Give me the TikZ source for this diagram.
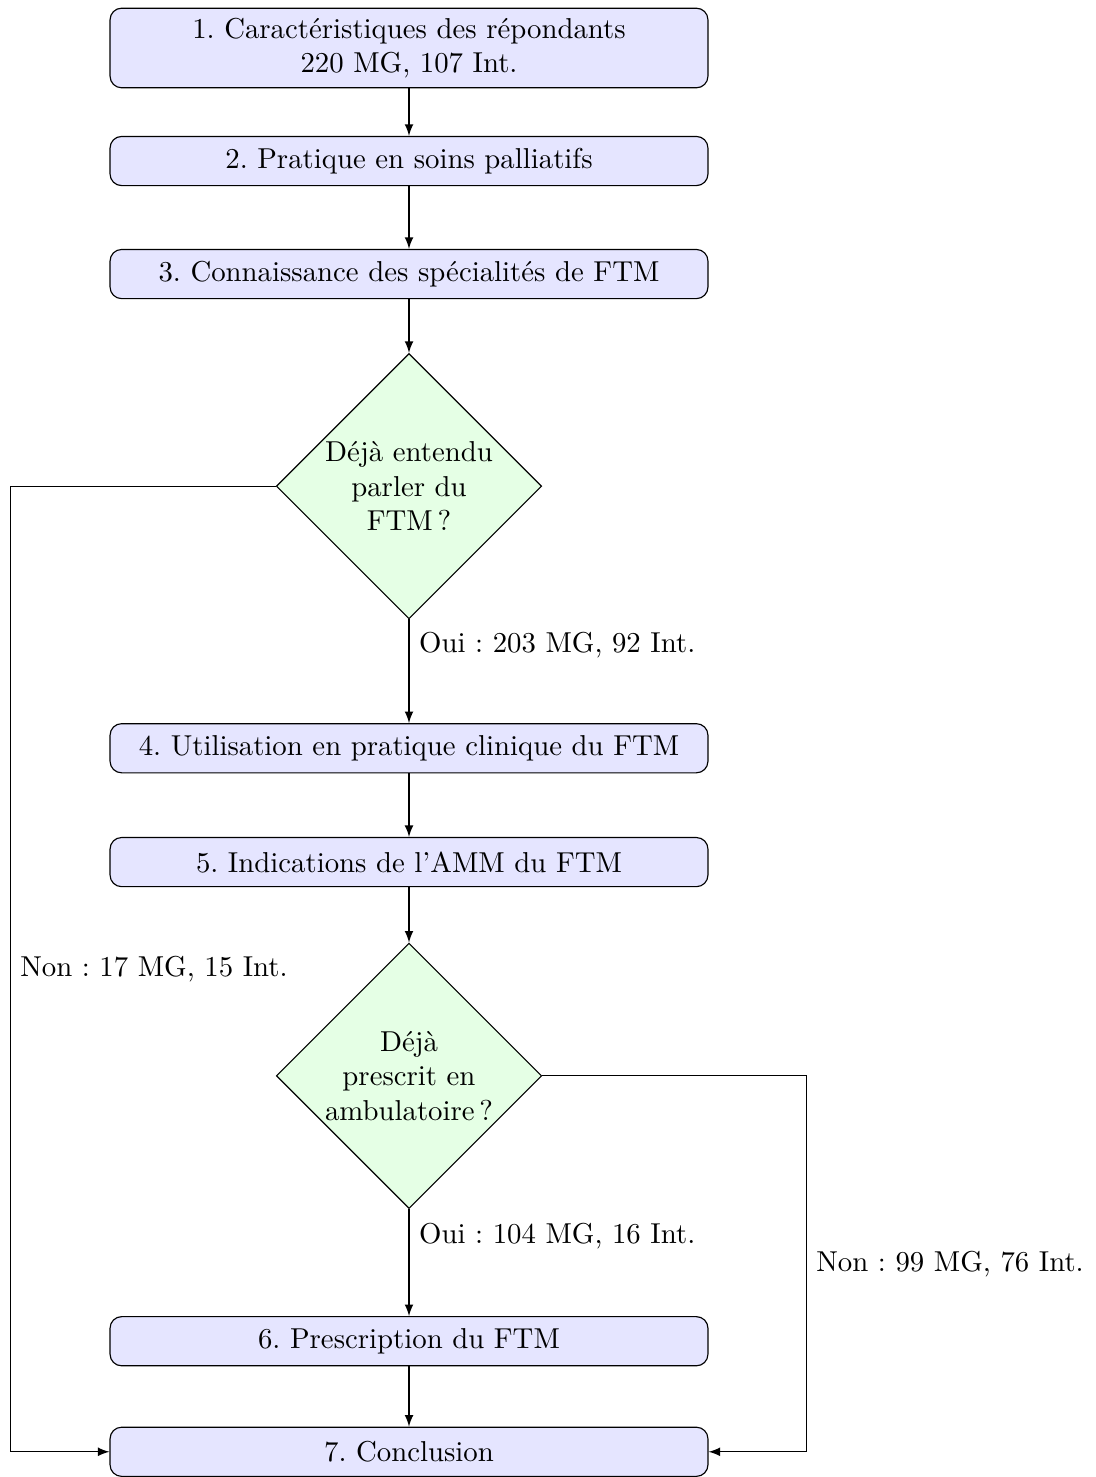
\documentclass[tikz,border=0pt]{standalone}
\usepackage{fontspec}
\usetikzlibrary{shapes.geometric}
\frenchspacing

\tikzset{
  block/.style={rectangle, rounded corners, draw, fill=blue!10, minimum width=7.3cm, minimum height=0.6cm, align=center},
  decision/.style={diamond, draw, fill=green!10, aspect=1, minimum width=3.24cm, minimum height=3.24cm, inner sep=0pt, align=center},
  line/.style={draw, -latex}
}

\begin{document}
\begin{tikzpicture}
\useasboundingbox (-4.994,-17.448) rectangle (8.376,0.586);

\node[block] (b1) at (0,0) {1. Caractéristiques des répondants\\220 MG, 107 Int.};
\node[block] (b2) at (0,-1.38) {2. Pratique en soins palliatifs};
\node[block] (b3) at (0,-2.76) {3. Connaissance des spécialités de FTM};
\node[decision] (d1) at (0,-5.35) {Déjà entendu\\parler du\\FTM\,?};
\node[block] (b4) at (0,-8.55) {4. Utilisation en pratique clinique du FTM};
\node[block] (b5) at (0,-9.94) {5. Indications de l'AMM du FTM};
\node[decision] (d2) at (0,-12.55) {Déjà\\prescrit en\\ambulatoire\,?};
\node[block] (b6) at (0,-15.79) {6. Prescription du FTM};
\node[block] (b7) at (0,-17.14) {7. Conclusion};

\coordinate (left) at (-4.87,0);
\coordinate (right) at (4.85,0);

\draw[line] (b1) -- (b2);
\draw[line] (b2) -- (b3);
\draw[line] (b3) -- (d1);
\draw[line] (d1) -- node[right,near start]{Oui : 203 MG, 92 Int.} (b4);
\draw[line] (b4) -- (b5);
\draw[line] (b5) -- (d2);
\draw[line] (d2) -- node[right,near start]{Oui : 104 MG, 16 Int.} (b6);
\draw[line] (b6) -- (b7);

% branches "Non"
\draw[line] (d1.west) -- (d1.west -| left) -- node[right]{Non : 17 MG, 15 Int.} (b7.west -| left) -- (b7.west);
\draw[line] (d2.east) -- (d2.east -| right) -- node[right]{Non : 99 MG, 76 Int.} (b7.east -| right) -- (b7.east);
\end{tikzpicture}
\end{document}
